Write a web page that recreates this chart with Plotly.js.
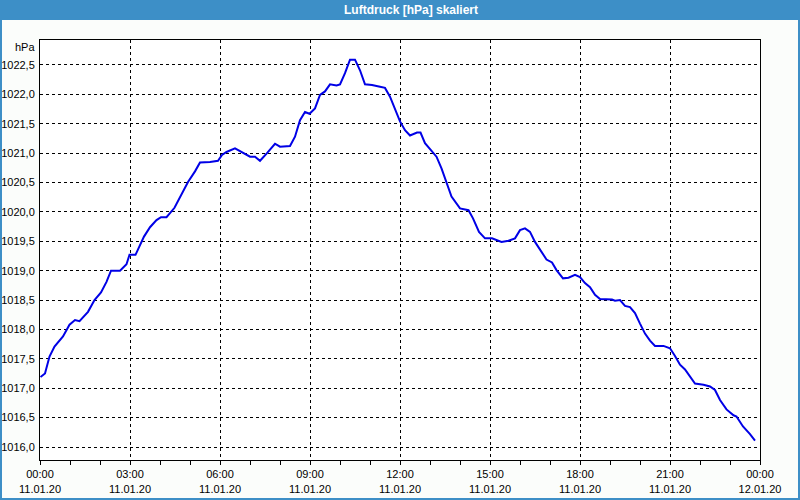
<!DOCTYPE html>
<html>
<head>
<meta charset="utf-8">
<script src="https://cdn.plot.ly/plotly-3.0.1.min.js"></script>
<style>
  html, body { margin: 0; padding: 0; background: #fbfdfb; }
  #chart { width: 800px; height: 500px; }
</style>
</head>
<body>
<div id="chart"></div>
<script>
const chartTitle = 'Luftdruck [hPa] skaliert';
const unitLabel = 'hPa';
const day = '2020-01-11';
const times = [
  '00:01','00:10','00:19','00:29','00:46','00:59','01:10','01:19','01:36','01:49',
  '02:02','02:13','02:22','02:40','02:53','02:59','03:11','03:19','03:28','03:40',
  '03:53','04:02','04:13','04:29','04:43','04:56','05:10','05:20','05:40','05:56',
  '06:04','06:13','06:30','06:43','07:00','07:10','07:20','07:34','07:50','08:00',
  '08:20','08:30','08:40','08:50','08:59','09:10','09:20','09:30','09:40','09:53',
  '10:00','10:10','10:20','10:30','10:40','10:50','11:04','11:20','11:30','11:40',
  '11:50','12:00','12:10','12:20','12:34','12:41','12:50','13:04','13:13','13:23',
  '13:34','13:43','14:00','14:17','14:26','14:38','14:50','15:04','15:23','15:37',
  '15:50','16:00','16:10','16:20','16:30','16:40','16:53','17:04','17:13','17:26',
  '17:37','17:50','18:00','18:10','18:20','18:30','18:40','19:04','19:10','19:20',
  '19:30','19:40','19:50','20:00','20:10','20:20','20:30','20:47','21:00','21:10',
  '21:20','21:30','21:40','21:50','22:07','22:20','22:30','22:40','22:53','23:07',
  '23:13','23:26','23:40','23:50'
];
const pressure = [
  1017.19,1017.25,1017.54,1017.71,1017.88,1018.08,1018.16,1018.14,1018.30,1018.50,
  1018.63,1018.81,1019.00,1019.00,1019.11,1019.27,1019.27,1019.41,1019.58,1019.74,
  1019.86,1019.91,1019.91,1020.07,1020.29,1020.51,1020.69,1020.84,1020.85,1020.87,
  1020.97,1021.02,1021.08,1021.02,1020.94,1020.94,1020.87,1021.00,1021.16,1021.11,
  1021.12,1021.28,1021.56,1021.70,1021.67,1021.76,1021.99,1022.05,1022.17,1022.15,
  1022.17,1022.36,1022.59,1022.59,1022.41,1022.17,1022.16,1022.13,1022.11,1021.96,
  1021.75,1021.54,1021.39,1021.30,1021.35,1021.35,1021.17,1021.02,1020.94,1020.74,
  1020.46,1020.26,1020.06,1020.03,1019.89,1019.66,1019.55,1019.55,1019.49,1019.51,
  1019.55,1019.69,1019.72,1019.66,1019.49,1019.35,1019.19,1019.14,1019.01,1018.87,
  1018.88,1018.93,1018.89,1018.79,1018.72,1018.59,1018.52,1018.51,1018.49,1018.50,
  1018.40,1018.38,1018.28,1018.10,1017.93,1017.81,1017.72,1017.72,1017.68,1017.55,
  1017.40,1017.32,1017.20,1017.08,1017.06,1017.03,1016.97,1016.80,1016.64,1016.54,
  1016.52,1016.35,1016.22,1016.11
];

const xs = times.map(t => day + ' ' + t);
const font = {family: 'Liberation Sans, Arial, sans-serif', size: 11, color: '#000'};

const trace = {
  x: xs, y: pressure, type: 'scatter', mode: 'lines',
  line: {color: '#0000e6', width: 2},
  hoverinfo: 'skip'
};

const layout = {
  width: 800, height: 500,
  margin: {l: 40, r: 40, t: 40, b: 40, pad: 0},
  paper_bgcolor: '#fbfdfb',
  plot_bgcolor: '#ffffff',
  font: font,
  separators: ',.',
  showlegend: false,
  xaxis: {
    type: 'date',
    range: ['2020-01-11 00:00', '2020-01-12 00:00'],
    tick0: '2020-01-11 00:00',
    dtick: 10800000,
    tickformat: '%H:%M<br>%d.%m.%y',
    ticks: 'outside', ticklen: 4, tickcolor: '#000', tickwidth: 1,
    showgrid: true, gridcolor: '#000', gridwidth: 1, griddash: '3px,3px',
    showline: true, linecolor: '#000', linewidth: 1, mirror: true,
    zeroline: false,
    minor: {dtick: 3600000, ticks: 'outside', ticklen: 4, tickcolor: '#000', showgrid: false},
    tickfont: font,
    fixedrange: true
  },
  yaxis: {
    range: [1015.779, 1022.925],
    dtick: 0.5,
    tick0: 1016,
    tickformat: '.1f',
    ticks: '',
    ticklabelstandoff: 2,
    showgrid: true, gridcolor: '#000', gridwidth: 1, griddash: '3px,3px',
    showline: true, linecolor: '#000', linewidth: 1, mirror: true,
    zeroline: false,
    tickfont: font,
    fixedrange: true
  },
  shapes: [
    {type: 'rect', xref: 'paper', yref: 'paper',
     x0: -40/720, x1: 1 + 40/720, y0: 1 + 20/420, y1: 1 + 40/420,
     fillcolor: '#3d8fc7', line: {width: 0}, layer: 'above'},
    {type: 'rect', xref: 'paper', yref: 'paper',
     x0: -39/720, x1: 1 + 39/720, y0: -39/420, y1: 1 + 39/420,
     fillcolor: 'rgba(0,0,0,0)', line: {color: '#3d8fc7', width: 2}, layer: 'above'}
  ],
  annotations: [
    {text: '<b>' + chartTitle + '</b>', xref: 'paper', yref: 'paper',
     x: (411 - 40) / 720, y: 1 + 30.5/420, xanchor: 'center', yanchor: 'middle', showarrow: false,
     font: {family: 'Liberation Sans, Arial, sans-serif', size: 12, color: '#ffffff'}},
    {text: unitLabel, xref: 'paper', yref: 'paper',
     x: 0, y: 1 - 7/420, xanchor: 'right', yanchor: 'middle', xshift: -3, showarrow: false,
     font: font}
  ]
};

Plotly.newPlot('chart', [trace], layout, {staticPlot: true, displayModeBar: false});
</script>
</body>
</html>
